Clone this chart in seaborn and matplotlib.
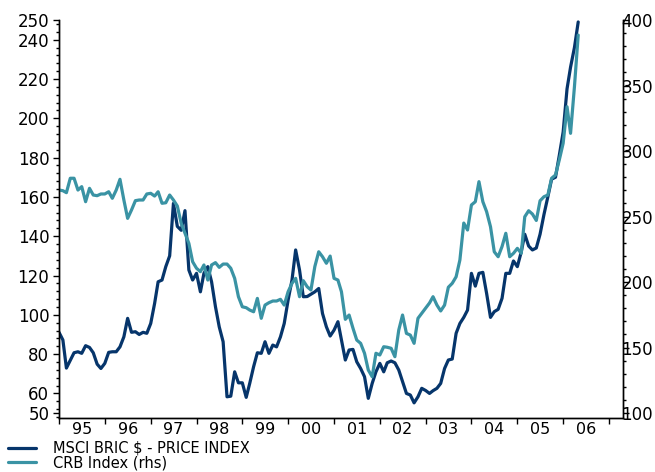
import numpy as np
import pandas as pd
import matplotlib
matplotlib.use("Agg")
import matplotlib.pyplot as plt
import matplotlib.dates as mdates
from matplotlib.ticker import FixedLocator, MultipleLocator, NullFormatter
import seaborn as sns

# Monthly closes, Jan 1995 onwards
msci_bric = [
    91.1, 87.2, 72.9, 76.9, 80.7, 81.2, 80.4, 84.3, 83.4, 80.7, 74.9, 72.7,
    75.3, 80.9, 81.2, 81.2, 83.7, 88.8, 98.2, 91.1, 91.4, 90.0, 91.1, 90.6,
    95.6, 105.8, 116.8, 117.7, 124.5, 130.0, 156.7, 145.0, 143.0, 153.0, 122.8, 117.7,
    121.1, 111.7, 121.1, 124.5, 116.8, 104.1, 93.9, 86.3, 58.3, 58.6, 71.0, 65.4,
    65.4, 58.0, 65.1, 73.6, 80.7, 80.4, 86.3, 80.4, 84.6, 83.7, 88.8, 95.6,
    107.5, 117.7, 133.0, 122.8, 109.2, 109.3, 110.5, 111.7, 113.4, 100.7, 93.9, 89.2,
    92.2, 96.5, 87.2, 77.0, 82.1, 82.4, 76.1, 72.7, 68.5, 57.5, 65.1, 71.0,
    75.3, 71.0, 75.6, 76.5, 75.6, 71.9, 66.0, 60.0, 59.2, 55.2, 58.3, 62.6,
    61.5, 60.0, 61.4, 62.6, 65.1, 72.7, 77.0, 77.5, 90.6, 95.6, 98.7, 102.4,
    121.1, 114.6, 121.1, 121.6, 110.9, 98.7, 101.6, 102.8, 108.4, 121.1, 121.1, 127.4,
    124.5, 132.0, 141.0, 135.0, 133.0, 134.0, 141.0, 151.0, 160.0, 169.0, 170.0, 181.0,
    193.0, 215.0, 226.0, 236.0, 249.0,
]

crb_index = [
    270.2, 269.7, 268.2, 279.2, 279.2, 270.2, 272.8, 261.3, 271.5, 266.4, 265.9, 267.2,
    267.2, 268.9, 263.9, 270.2, 278.4, 262.6, 248.6, 255.0, 262.1, 262.6, 262.6, 267.2,
    267.7, 265.6, 268.9, 260.1, 260.5, 266.4, 262.6, 258.0, 244.8, 237.2, 229.5, 215.5,
    210.5, 207.9, 213.0, 201.5, 213.0, 214.8, 211.2, 213.7, 213.7, 210.5, 202.8, 188.8,
    181.1, 180.4, 178.6, 177.3, 187.5, 172.3, 182.4, 184.2, 185.5, 185.5, 186.8, 182.4,
    192.6, 199.0, 202.8, 188.8, 201.0, 196.4, 193.9, 211.8, 223.1, 219.3, 214.3, 219.8,
    202.8, 201.5, 192.6, 171.5, 174.8, 164.7, 155.7, 153.2, 145.6, 132.8, 127.7, 145.6,
    144.3, 150.6, 150.2, 149.4, 143.0, 163.4, 174.8, 160.8, 159.5, 153.2, 172.3, 176.1,
    180.0, 184.0, 188.8, 182.4, 177.9, 182.4, 196.0, 199.0, 204.0, 216.8, 245.0, 239.7,
    258.8, 261.3, 276.6, 261.3, 253.7, 242.2, 223.1, 219.3, 227.1, 237.2, 219.3, 221.9,
    225.7, 221.9, 249.8, 254.4, 251.9, 247.0, 262.0, 265.1, 266.4, 279.2, 281.7, 293.1,
    305.9, 333.8, 313.5, 349.1, 388.5,
]

series_names = ["MSCI BRIC $ - PRICE INDEX", "CRB Index (rhs)"]
left_ticks = [50, 60, 80, 100, 120, 140, 160, 180, 200, 220, 240, 250]

NAVY = "#06356b"
TEAL = "#3a93a4"

dates = pd.date_range("1995-01-01", periods=len(msci_bric), freq="MS")
df = pd.DataFrame({"date": dates, "msci": msci_bric, "crb": crb_index})

sns.set_style("ticks")
plt.rcParams["font.family"] = ["DejaVu Sans"]
plt.rcParams["axes.linewidth"] = 1.0
plt.rcParams["text.color"] = "black"

fig = plt.figure(figsize=(6.55, 4.72), dpi=100)
ax = fig.add_axes([59 / 655, 1 - 418 / 472, (623 - 59) / 655, (418 - 20) / 472])
ax2 = ax.twinx()

sns.lineplot(data=df, x="date", y="msci", ax=ax, color=NAVY, lw=2.3, legend=False)
sns.lineplot(data=df, x="date", y="crb", ax=ax2, color=TEAL, lw=2.3, legend=False)

for a in (ax, ax2):
    a.set_xlabel("")
    a.set_ylabel("")
    a.spines["top"].set_visible(False)
    for s in a.spines.values():
        s.set_color("black")

# x axis: ticks on year boundaries, labels mid-year
ax.set_xlim(pd.Timestamp("1995-01-01"), pd.Timestamp("2007-04-23"))
ax.xaxis.set_major_locator(mdates.YearLocator())
ax.xaxis.set_major_formatter(NullFormatter())
ax.xaxis.set_minor_locator(mdates.YearLocator(month=7))
ax.xaxis.set_minor_formatter(mdates.DateFormatter("%y"))
ax.tick_params(axis="x", which="major", length=4, width=1, color="black")
ax.tick_params(axis="x", which="minor", length=0, pad=3, labelsize=11.5, labelcolor="black")

# left axis
ax.set_ylim(47.5, 250)
ax.yaxis.set_major_locator(FixedLocator(left_ticks))
ax.yaxis.set_minor_locator(MultipleLocator(4))
ax.tick_params(axis="y", which="major", length=4, width=1, pad=3, labelsize=12,
               color="black", labelcolor="black")
ax.tick_params(axis="y", which="minor", length=2.5, width=1, color="black")

# right axis
ax2.set_ylim(96.2, 400)
ax2.yaxis.set_major_locator(MultipleLocator(50))
ax2.yaxis.set_minor_locator(MultipleLocator(10))
ax2.tick_params(axis="y", which="major", length=4, width=1, pad=-5, labelsize=12,
                color="black", labelcolor="black")
ax2.tick_params(axis="y", which="minor", length=2.5, width=1, color="black")

handles = [ax.lines[0], ax2.lines[0]]
leg = fig.legend(handles, series_names, loc="upper left", bbox_to_anchor=(0.012, 0.066),
                 frameon=False, fontsize=10.5, handlelength=1.9, handletextpad=1.2,
                 labelspacing=-0.05, borderpad=0, borderaxespad=0)
for t in leg.get_texts():
    t.set_color("black")

fig.savefig("out.png", dpi=100)
